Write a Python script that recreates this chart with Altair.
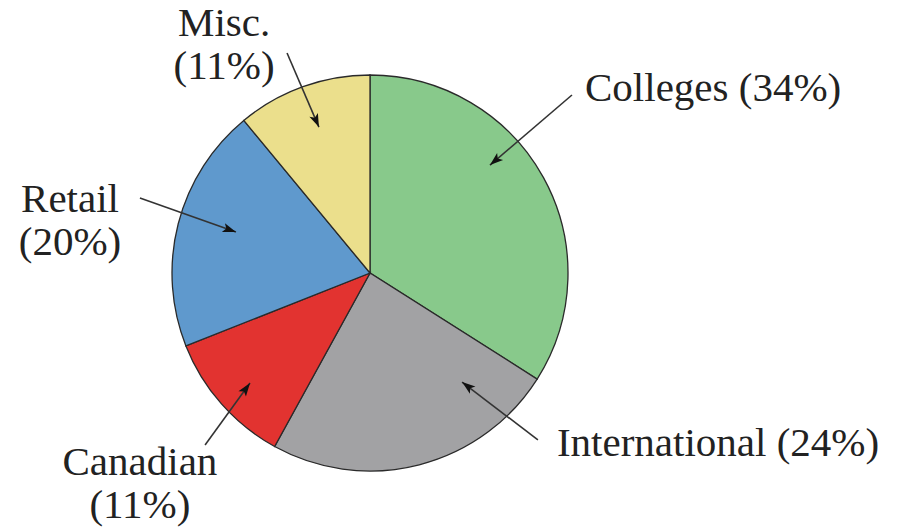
import math
import altair as alt
import pandas as pd

# ---- data ----
categories = ["Colleges", "International", "Canadian", "Retail", "Misc."]
shares = [34, 24, 11, 20, 11]
colors = ["#88c98b", "#a2a2a4", "#e23330", "#5f99cd", "#ebdf8c"]

# label texts and anchors (in pie-radius units, pie centre at 0,0, y up)
label_lines = [["Colleges (34%)"], ["International (24%)"], ["Canadian", "(11%)"],
               ["Retail", "(20%)"], ["Misc.", "(11%)"]]
label_x = [1.086, 0.944, -1.162, -1.515, -0.737]
label_y = [0.869, -0.924, -1.022, 0.308, 1.197]
label_align = ["left", "left", "center", "center", "center"]

# arrows: start (near label) -> tip (inside slice)
arrow_x1 = [1.020, 0.848, -0.833, -1.162, -0.419]
arrow_y1 = [0.899, -0.843, -0.869, 0.379, 1.111]
arrow_x2 = [0.606, 0.465, -0.606, -0.677, -0.258]
arrow_y2 = [0.545, -0.551, -0.556, 0.207, 0.737]

# ---- layout ----
W, H = 911, 532
CX, CY, R = 370, 273, 198  # pie centre and radius in pixels
xdom = [-CX / R, (W - CX) / R]
ydom = [-(H - CY) / R, CY / R]
xs = alt.Scale(domain=xdom, nice=False, zero=False)
ys = alt.Scale(domain=ydom, nice=False, zero=False)

pie_df = pd.DataFrame({"cat": categories, "value": shares, "idx": list(range(len(shares)))})
arrow_df = pd.DataFrame({"x1": arrow_x1, "y1": arrow_y1, "x2": arrow_x2, "y2": arrow_y2})
arrow_df["ang"] = [
    math.degrees(math.atan2(x2 - x1, y2 - y1)) % 360
    for x1, y1, x2, y2 in zip(arrow_x1, arrow_y1, arrow_x2, arrow_y2)
]
label_df = pd.DataFrame({"txt": label_lines, "x": label_x, "y": label_y, "align": label_align})

pie = alt.Chart(pie_df).mark_arc(radius=R, stroke="#2a2a2a", strokeWidth=1.3).encode(
    theta=alt.Theta("value:Q", stack=True),
    order=alt.Order("idx:Q"),
    color=alt.Color("cat:N", scale=alt.Scale(domain=categories, range=colors), legend=None),
    x=alt.X(datum=0, scale=xs, axis=None),
    y=alt.Y(datum=0, scale=ys, axis=None),
)

lines = alt.Chart(arrow_df).mark_rule(color="#333333", strokeWidth=1.6).encode(
    x=alt.X("x1:Q", scale=xs, axis=None),
    y=alt.Y("y1:Q", scale=ys, axis=None),
    x2="x2:Q",
    y2="y2:Q",
)

heads = alt.Chart(arrow_df).mark_point(
    shape="M0,0L0.45,1.3L0,1L-0.45,1.3Z", filled=True, color="#111111", opacity=1, size=420
).encode(
    x=alt.X("x2:Q", scale=xs, axis=None),
    y=alt.Y("y2:Q", scale=ys, axis=None),
    angle=alt.Angle("ang:Q", scale=None),
)

def text_layer(align):
    return alt.Chart(label_df).transform_filter(
        alt.datum.align == align
    ).mark_text(
        font="Liberation Serif", fontSize=41, color="#222222", align=align,
        baseline="alphabetic", lineHeight=43,
    ).encode(
        x=alt.X("x:Q", scale=xs, axis=None),
        y=alt.Y("y:Q", scale=ys, axis=None),
        text="txt",
    )

chart = alt.layer(pie, lines, heads, text_layer("left"), text_layer("center")).properties(
    width=W, height=H, padding=0, autosize="none", background="white"
).configure_view(stroke=None)

chart.save("out.html", embed_options={"renderer": "svg", "actions": False})
